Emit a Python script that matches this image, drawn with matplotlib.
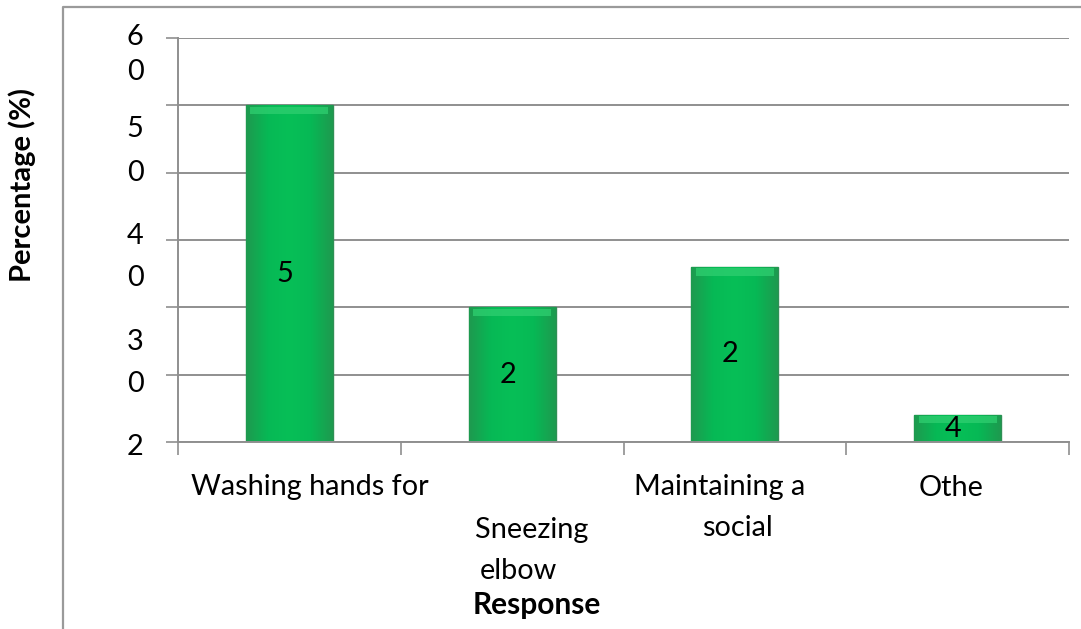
import numpy as np
import matplotlib
matplotlib.use("Agg")
import matplotlib.pyplot as plt
from matplotlib.lines import Line2D
from matplotlib.colors import LinearSegmentedColormap

plt.rcParams['font.family'] = ['Lato', 'DejaVu Sans']

# ---- data ----
categories = ["Washing hands for", "Sneezing\nelbow", "Maintaining a\nsocial", "Othe"]
values = [50, 20, 26, 4]
value_labels = ["5", "2", "2", "4"]
y_gridlines = [0, 10, 20, 30, 40, 50, 60]
# y tick labels, wrapped one character per line
ytick_chars = ["6", "0", "5", "0", "4", "0", "3", "0", "2"]

# ---- layout ----
W, H = 1081, 629
ytick_char_y = [60.1, 54.9, 46.5, 40.0, 30.6, 24.4, 14.8, 8.6, -0.8]
cat_label_lines = [
    [("Washing hands for", 0.09, -0.111)],
    [("Sneezing", 1.09, -0.218), ("elbow", 1.03, -0.319)],
    [("Maintaining a", 1.93, -0.111), ("social", 2.01, -0.213)],
    [("Othe", 2.97, -0.114)],
]
grid_color = "#8f8f8f"
fs = 20.8

fig = plt.figure(figsize=(W / 100, H / 100), dpi=100)
ax = fig.add_axes([178 / W, (H - 442) / H, (1069 - 178) / W, (442 - 38) / H])
ax.set_xlim(-0.5, 3.5)
ax.set_ylim(0, 60)

# outer frame (left and top edges)
fig.add_artist(Line2D([63 / W, 63 / W, 1.0], [0.0, 1 - 7 / H, 1 - 7 / H],
                      transform=fig.transFigure, color="#9a9a9a", lw=1.6))

# grid and axes
ax.set_yticks(y_gridlines)
ax.yaxis.grid(True, color=grid_color, lw=1.4)
ax.set_axisbelow(True)
ax.set_xticks(np.arange(-0.5, len(categories), 1.0))
ax.tick_params(axis="both", which="both", length=9, width=1.2, color=grid_color,
               labelleft=False, labelbottom=False, direction="out")
for s in ["top", "right"]:
    ax.spines[s].set_visible(False)
for s in ["left", "bottom"]:
    ax.spines[s].set_color(grid_color)
    ax.spines[s].set_linewidth(1.4)

# bars with a soft bevel shading
x = np.arange(len(categories))
bars = ax.bar(x, values, width=0.39, color="#00b050", edgecolor="#2f8f55",
              linewidth=1.0, zorder=2)
cmap = LinearSegmentedColormap.from_list(
    "bevel", ["#1e9a4f", "#06b955", "#07bf57", "#06b955", "#1e9a4f"])
for b in bars:
    bx, by = b.get_x(), b.get_y()
    bw, bh = b.get_width(), b.get_height()
    grad = np.tile(np.linspace(0, 1, 64), (32, 1))
    im = ax.imshow(grad, cmap=cmap, extent=[bx, bx + bw, by, by + bh],
                   aspect="auto", origin="lower", zorder=2.1, interpolation="bicubic")
    im.set_clip_path(b)
    # soft lighter rim along the top
    rim = min(1.3, bh * 0.3)
    ax.fill_between([bx + bw * 0.05, bx + bw * 0.95], by + bh - rim, by + bh - 0.2,
                    color="#2fcf70", alpha=0.75, zorder=2.2, lw=0)

for xi, v, lab in zip(x, values, value_labels):
    ax.text(xi - 0.02, v / 2, lab, ha="center", va="center", fontsize=fs,
            color="black", zorder=3)

# y tick characters
ytr = ax.get_yaxis_transform()
for ch, yy in zip(ytick_chars, ytick_char_y):
    ax.text(-0.048, yy, ch, transform=ytr, ha="center", va="center",
            fontsize=fs, clip_on=False)

# category labels
xtr = ax.get_xaxis_transform()
for lines in cat_label_lines:
    for txt, xx, yy in lines:
        ax.text(xx, yy, txt, transform=xtr, ha="center", va="center",
                fontsize=fs, clip_on=False)

ax.text(1.11, -0.403, "Response", transform=xtr, ha="center", va="center",
        fontsize=21.5, fontweight="bold", clip_on=False)
fig.text(22 / W, 1 - 185 / H, "Percentage (%)", rotation=90, ha="center",
         va="center", fontsize=21, fontweight="bold")

fig.savefig("out.png", dpi=100)
